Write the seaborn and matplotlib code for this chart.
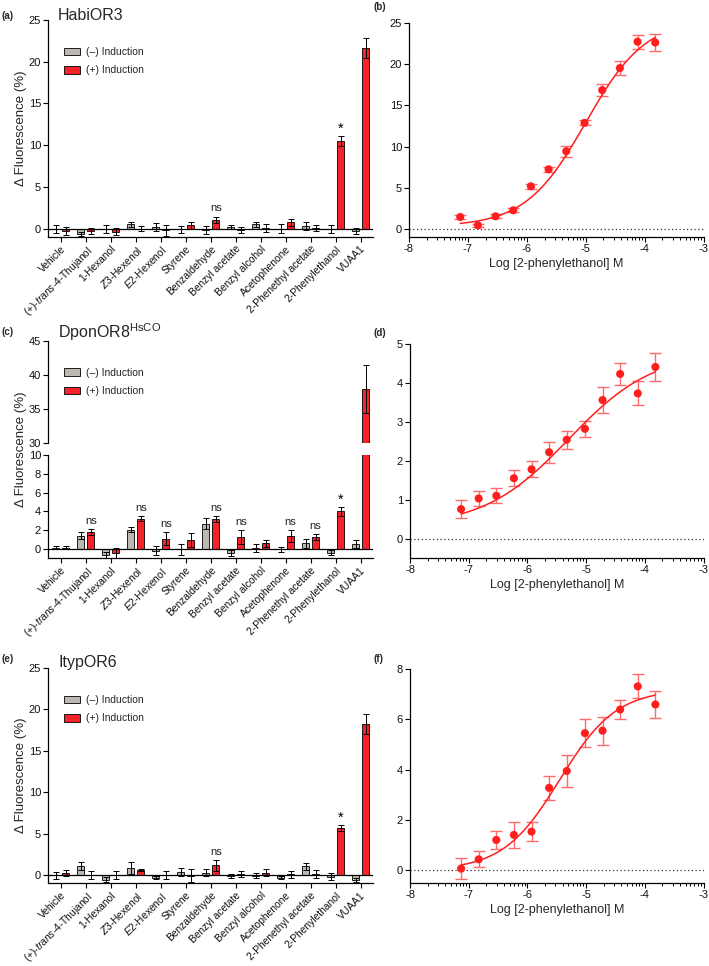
import numpy as np
import pandas as pd
import matplotlib
matplotlib.use("Agg")
import matplotlib.pyplot as plt
import seaborn as sns
from matplotlib.patches import Patch
from matplotlib.ticker import FixedLocator

sns.set_theme(style="ticks")
plt.rcParams['font.family'] = ['Liberation Sans', 'DejaVu Sans']
plt.rcParams['mathtext.fontset'] = 'custom'
plt.rcParams['mathtext.rm'] = 'Liberation Sans'
plt.rcParams['mathtext.it'] = 'Liberation Sans:italic'
plt.rcParams['mathtext.bf'] = 'Liberation Sans:bold'
plt.rcParams['axes.unicode_minus'] = False

# ---------------- data ----------------
compounds = ["Vehicle", "trans-4-Thujanol", "1-Hexanol", "Z3-Hexenol", "E2-Hexenol",
             "Styrene", "Benzaldehyde", "Benzyl acetate", "Benzyl alcohol",
             "Acetophenone", "2-Phenethyl acetate", "2-Phenylethanol", "VUAA1"]
compound_labels = ["Vehicle", r"(+)-$\it{trans}$-4-Thujanol", "1-Hexanol", r"$\it{Z}$3-Hexenol",
                   r"$\it{E}$2-Hexenol", "Styrene", "Benzaldehyde", "Benzyl acetate",
                   "Benzyl alcohol", "Acetophenone", "2-Phenethyl acetate",
                   "2-Phenylethanol", "VUAA1"]
induction_levels = ["(–) Induction", "(+) Induction"]

# (a) HabiOR3
a_neg = [-0.05, -0.65, -0.05, 0.5, 0.2, -0.1, -0.2, 0.2, 0.55, 0.0, 0.3, -0.05, -0.3]
a_neg_err = [0.45, 0.2, 0.45, 0.3, 0.5, 0.4, 0.5, 0.2, 0.3, 0.55, 0.5, 0.45, 0.4]
a_pos = [-0.3, -0.3, -0.35, 0.0, -0.2, 0.4, 1.05, -0.2, 0.05, 0.75, 0.1, 10.5, 21.6]
a_pos_err = [0.45, 0.35, 0.4, 0.3, 0.65, 0.4, 0.35, 0.35, 0.45, 0.45, 0.35, 0.6, 1.2]
a_marks = ["", "", "", "", "", "", "ns", "", "", "", "", "*", ""]

# (c) DponOR8 HsCO
c_neg = [0.12, 1.42, -0.64, 2.05, -0.2, -0.05, 2.7, -0.45, 0.12, -0.05, 0.6, -0.4, 0.5]
c_neg_err = [0.15, 0.4, 0.35, 0.25, 0.5, 0.6, 0.55, 0.35, 0.45, 0.3, 0.5, 0.25, 0.4]
c_pos = [0.12, 1.8, -0.46, 3.2, 1.1, 0.95, 3.2, 1.25, 0.6, 1.35, 1.25, 4.0, 37.9]
c_pos_err = [0.15, 0.3, 0.6, 0.28, 0.7, 0.7, 0.3, 0.75, 0.38, 0.65, 0.33, 0.46, 3.5]
c_marks = ["", "ns", "", "ns", "ns", "", "ns", "ns", "", "ns", "ns", "*", ""]

# (e) ItypOR6
e_neg = [-0.05, 1.1, -0.55, 0.85, -0.3, 0.35, 0.3, -0.1, -0.1, -0.3, 1.05, -0.2, -0.6]
e_neg_err = [0.45, 0.5, 0.3, 0.7, 0.2, 0.5, 0.45, 0.2, 0.3, 0.2, 0.45, 0.45, 0.3]
e_pos = [0.2, 0.0, 0.0, 0.6, 0.0, -0.1, 1.15, 0.1, 0.3, 0.1, 0.1, 5.7, 18.2]
e_pos_err = [0.35, 0.5, 0.5, 0.15, 0.5, 0.77, 0.65, 0.35, 0.4, 0.4, 0.5, 0.35, 1.2]
e_marks = ["", "", "", "", "", "", "ns", "", "", "", "", "*", ""]

# dose-response: log [2-phenylethanol] M
log_conc = [-7.13, -6.83, -6.53, -6.23, -5.93, -5.63, -5.33, -5.02, -4.72, -4.42, -4.12, -3.82]
b_resp = [1.46, 0.45, 1.54, 2.27, 5.18, 7.24, 9.43, 12.86, 16.83, 19.5, 22.7, 22.6]
b_err = [0.2, 0.2, 0.25, 0.25, 0.3, 0.3, 0.65, 0.3, 0.75, 0.8, 0.85, 1.05]
d_resp = [0.755, 1.03, 1.10, 1.55, 1.78, 2.22, 2.54, 2.82, 3.56, 4.23, 3.73, 4.41]
d_err = [0.23, 0.2, 0.19, 0.2, 0.21, 0.27, 0.23, 0.2, 0.33, 0.28, 0.31, 0.36]
f_resp = [0.07, 0.44, 1.21, 1.41, 1.54, 3.28, 3.95, 5.45, 5.55, 6.39, 7.31, 6.59]
f_err = [0.42, 0.32, 0.34, 0.53, 0.37, 0.48, 0.63, 0.55, 0.56, 0.36, 0.48, 0.54]
# fitted 4-parameter logistic: bottom, top, logEC50, hill
b_fit = [0.3, 25.5, -5.0, 0.85]
d_fit = [0.3, 4.8, -5.3, 0.6]
f_fit = [0.0, 7.2, -5.45, 0.9]

# ---------------- style ----------------
GRAY = "#BCB9B1"
RED = "#F5212B"
DOT_RED = "#FF1E1E"
ERR_RED = "#FF6A6A"
TICK_FS = 8
CAT_FS = 7.4

W, H = 709, 966
fig = plt.figure(figsize=(W / 100, H / 100), dpi=100)


def px_axes(l, t, r, b):
    return fig.add_axes([l / W, 1 - b / H, (r - l) / W, (b - t) / H])


def style_axis(ax):
    sns.despine(ax=ax)
    for s in ("left", "bottom"):
        ax.spines[s].set_linewidth(0.9)
        ax.spines[s].set_color("black")
    ax.tick_params(axis="both", which="major", labelsize=TICK_FS, length=3.5,
                   width=0.8, pad=1.5, color="black", labelcolor="#111111")
    ax.tick_params(axis="both", which="minor", length=2, width=0.7, color="black")
    ax.set_xlabel("")
    ax.set_ylabel("")


def draw_bars(ax, neg, neg_err, pos, pos_err, marks=None):
    df = pd.DataFrame({
        "compound": compounds * 2,
        "induction": [induction_levels[0]] * len(compounds) + [induction_levels[1]] * len(compounds),
        "value": list(neg) + list(pos),
    })
    sns.barplot(data=df, x="compound", y="value", hue="induction", order=compounds,
                hue_order=induction_levels, palette=[GRAY, RED], saturation=1,
                errorbar=None, width=0.8, gap=0.3, edgecolor="black", linewidth=0.6,
                legend=False, ax=ax, zorder=3)
    bars = list(ax.containers)
    xs_pos = None
    for cont, vals, errs in zip(bars, [neg, pos], [neg_err, pos_err]):
        xs = [b.get_x() + b.get_width() / 2 for b in cont]
        ax.errorbar(xs, vals, yerr=errs, fmt="none", ecolor="black", elinewidth=0.7,
                    capsize=2.3, capthick=0.7, zorder=4)
        xs_pos = xs
    ax.axhline(0, color="black", lw=0.9, zorder=5)
    if marks is not None:
        for x, v, e, m in zip(xs_pos, pos, pos_err, marks):
            if m == "ns":
                ax.annotate(m, (x, v + e), xytext=(0, 2.5), textcoords="offset points",
                            ha="center", va="bottom", fontsize=8, color="#222222")
            elif m == "*":
                ax.annotate(m, (x, v + e), xytext=(0, 0), textcoords="offset points",
                            ha="center", va="bottom", fontsize=10.5, color="black")
    ax.set_xlim(-0.52, 12.5)


def finish_xcats(ax):
    ax.set_xticks(range(len(compounds)))
    ax.set_xticklabels(compound_labels, rotation=45, ha="right", rotation_mode="anchor",
                       fontsize=CAT_FS)


def add_legend(ax, top_px):
    handles = [Patch(facecolor=GRAY, edgecolor="black", lw=0.6, label=induction_levels[0]),
               Patch(facecolor=RED, edgecolor="black", lw=0.6, label=induction_levels[1])]
    ax.legend(handles=handles, loc="upper left", bbox_to_anchor=(64 / W, 1 - (top_px + 27) / H),
              bbox_transform=fig.transFigure, frameon=False, fontsize=7.5, handlelength=1.5,
              handleheight=0.75, handletextpad=0.6, labelspacing=0.8, borderpad=0,
              borderaxespad=0)


def draw_dose(ax, y, err, fit, ylim, yticks):
    bottom, top, ec50, hill = fit
    xf = np.linspace(min(log_conc), max(log_conc), 300)
    yf = bottom + (top - bottom) / (1 + 10 ** ((ec50 - xf) * hill))
    ax.axhline(0, color="#333333", lw=0.9, ls=(0, (1, 2)), zorder=1)
    ax.errorbar(log_conc, y, yerr=err, fmt="none", ecolor=ERR_RED, elinewidth=1.0,
                capsize=4.5, capthick=1.0, zorder=2)
    sns.lineplot(x=xf, y=yf, ax=ax, color=DOT_RED, lw=1.1, zorder=3)
    sns.scatterplot(x=log_conc, y=y, ax=ax, color=DOT_RED, s=34, edgecolor="none",
                    linewidth=0, zorder=4)
    ax.set_xlim(-8, -3)
    ax.set_ylim(*ylim)
    ax.set_xticks(list(range(-8, -2)))
    minor = [d + np.log10(k) for d in range(-8, -3) for k in range(2, 10)]
    ax.xaxis.set_minor_locator(FixedLocator(minor))
    ax.set_yticks(yticks)
    style_axis(ax)
    ax.set_xlabel("Log [2-phenylethanol] M", fontsize=9, labelpad=3)


# ---------------- panel (a) ----------------
ax_a = px_axes(48, 20, 373, 237)
draw_bars(ax_a, a_neg, a_neg_err, a_pos, a_pos_err, a_marks)
ax_a.set_ylim(-1, 25)
ax_a.set_yticks([0, 5, 10, 15, 20, 25])
style_axis(ax_a)
finish_xcats(ax_a)
add_legend(ax_a, 20)

# ---------------- panel (c) broken axis ----------------
ax_c_top = px_axes(48, 340.7, 373, 443.3)
ax_c = px_axes(48, 455, 373, 558.3)
draw_bars(ax_c_top, c_neg, c_neg_err, c_pos, c_pos_err, None)
draw_bars(ax_c, c_neg, c_neg_err, c_pos, c_pos_err, c_marks)
ax_c_top.set_ylim(30, 45)
ax_c_top.set_yticks([30, 35, 40, 45])
ax_c.set_ylim(-1, 10)
ax_c.set_yticks([0, 2, 4, 6, 8, 10])
style_axis(ax_c_top)
style_axis(ax_c)
sns.despine(ax=ax_c_top, bottom=True)
ax_c_top.tick_params(axis="x", bottom=False, labelbottom=False)
finish_xcats(ax_c)
add_legend(ax_c_top, 340.7)

# ---------------- panel (e) ----------------
ax_e = px_axes(48, 668, 373, 883.3)
draw_bars(ax_e, e_neg, e_neg_err, e_pos, e_pos_err, e_marks)
ax_e.set_ylim(-1, 25)
ax_e.set_yticks([0, 5, 10, 15, 20, 25])
style_axis(ax_e)
finish_xcats(ax_e)
add_legend(ax_e, 668)

# ---------------- dose-response panels ----------------
ax_b = px_axes(409, 22.7, 703.5, 237.3)
draw_dose(ax_b, b_resp, b_err, b_fit, (-1, 25), [0, 5, 10, 15, 20, 25])
ax_d = px_axes(410, 344, 703.5, 558)
draw_dose(ax_d, d_resp, d_err, d_fit, (-0.5, 5), [0, 1, 2, 3, 4, 5])
ax_f = px_axes(410, 669, 703.5, 883)
draw_dose(ax_f, f_resp, f_err, f_fit, (-0.5, 8), [0, 2, 4, 6, 8])

# ---------------- texts ----------------
ylab = "Δ Fluorescence (%)"
for yc in [(20 + 237) / 2, (340.7 + 558.3) / 2, (668 + 883.3) / 2]:
    fig.text(21 / W, 1 - yc / H, ylab, rotation=90, ha="center", va="center", fontsize=9.5)

for txt, yb in [("HabiOR3", 20.5), (r"DponOR8$^{\mathrm{HsCO}}$", 338.3), ("ItypOR6", 666.7)]:
    fig.text(58 / W, 1 - yb / H, txt, ha="left", va="baseline", fontsize=11.5)

for lab, x, y in [("(a)", 1, 16), ("(b)", 374, 7), ("(c)", 1, 331.7),
                  ("(d)", 374, 332.7), ("(e)", 1, 659), ("(f)", 374, 659)]:
    fig.text(x / W, 1 - y / H, lab, ha="left", va="center", fontsize=7, fontweight="bold")

fig.savefig("out.png", dpi=100)
